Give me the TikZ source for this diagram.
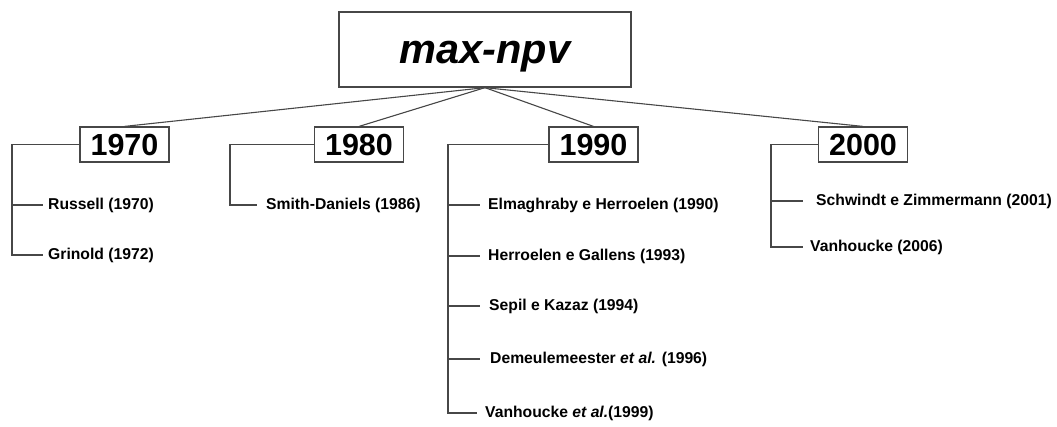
\documentclass[tikz,border=0pt]{standalone}
\usepackage{fontspec}
\setmainfont{Liberation Sans}
\begin{document}
\begin{tikzpicture}[x=1pt,y=-1pt,
  wire/.style={draw=black!72,line width=1.1pt},
  rootbox/.style={draw=black!72,line width=1.3pt,fill=white,minimum width=292pt,minimum height=75pt,inner sep=0pt,text height=27pt,text depth=0pt,font=\fontsize{41.5}{42}\selectfont\bfseries\itshape},
  yearbox/.style={draw=black!72,line width=1.2pt,fill=white,minimum width=89pt,minimum height=35pt,inner sep=0pt,font=\fontsize{30.5}{31}\selectfont\bfseries},
  ref/.style={anchor=west,inner sep=0pt,font=\fontsize{15.7}{16}\selectfont\bfseries}]
\useasboundingbox (0,0) rectangle (1057,426);

% root and decades
\node[rootbox] (root) at (485,49.5) {max-npv};
\node[yearbox] (y70) at (124.5,144.5) {1970};
\node[yearbox] (y80) at (359,144.5) {1980};
\node[yearbox] (y90) at (593.5,144.5) {1990};
\node[yearbox] (y00) at (863,144.5) {2000};

\foreach \y in {y70,y80,y90,y00}
  \draw[wire] (root.south) -- (\y.north);

% references
\node[ref] (r1) at (48,205) {Russell (1970)};
\node[ref] (r2) at (48,255) {Grinold (1972)};
\node[ref] (r3) at (266,205) {Smith-Daniels (1986)};
\node[ref] (r4) at (488,205) {Elmaghraby e Herroelen (1990)};
\node[ref] (r5) at (488,256) {Herroelen e Gallens (1993)};
\node[ref] (r6) at (489,306) {Sepil e Kazaz (1994)};
\node[ref] (r7) at (490,359) {Demeulemeester \textit{et al.} (1996)};
\node[ref] (r8) at (485,413) {Vanhoucke \textit{et al.}(1999)};
\node[ref] (r9) at (816,201) {Schwindt e Zimmermann (2001)};
\node[ref] (r10) at (810,247) {Vanhoucke (2006)};

% brackets: spine from decade box down to its last reference
\coordinate (s70) at (12,0);
\coordinate (s80) at (230,0);
\coordinate (s90) at (448,0);
\coordinate (s00) at (771,0);

\draw[wire] (y70.west) -- (s70 |- y70.west) -- (s70 |- r2.west) -- ([xshift=-5pt]r2.west);
\draw[wire] (s70 |- r1.west) -- ([xshift=-5pt]r1.west);

\draw[wire] (y80.west) -- (s80 |- y80.west) -- (s80 |- r3.west) -- ([xshift=-9pt]r3.west);

\draw[wire] (y90.west) -- (s90 |- y90.west) -- (s90 |- r8.west) -- ([xshift=-8pt]r8.west);
\foreach \r in {r4,r5,r6,r7}
  \draw[wire] (s90 |- \r.west) -- (480,0 |- \r.west);

\draw[wire] (y00.west) -- (s00 |- y00.west) -- (s00 |- r10.west) -- ([xshift=-7pt]r10.west);
\draw[wire] (s00 |- r9.west) -- ([xshift=-13pt]r9.west);
\end{tikzpicture}
\end{document}
